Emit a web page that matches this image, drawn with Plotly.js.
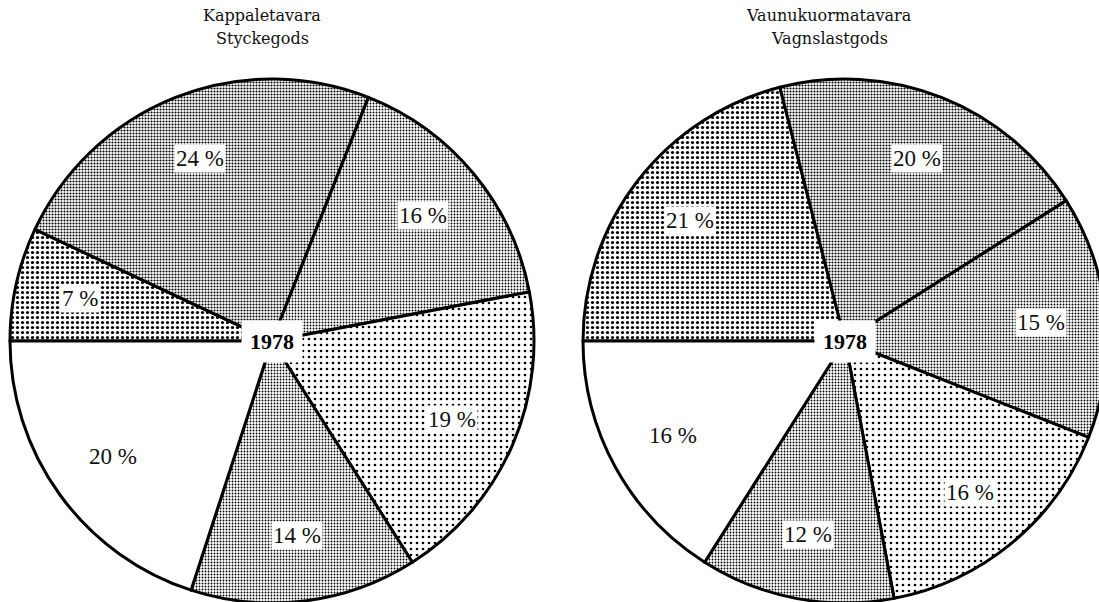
<!DOCTYPE html>
<html><head><meta charset="utf-8">
<script src="https://cdn.plot.ly/plotly-3.0.1.min.js"></script>
<style>html,body{margin:0;padding:0;overflow:hidden;background:#fff}#chart{width:1120px;height:620px}</style>
</head><body><div id="chart"></div>
<script>
// ---- data ----
const year = '1978';
const titleLeft = ['Kappaletavara', 'Styckegods'];
const titleRight = ['Vaunukuormatavara', 'Vagnslastgods'];
const slicesLeft = ['s1', 's2', 's3', 's4', 's5', 's6'];
const valuesLeft = [7, 24, 16, 19, 14, 20];
const slicesRight = ['s1', 's2', 's3', 's4', 's5', 's6'];
const valuesRight = [21, 20, 15, 16, 12, 16];

// ---- styles (kept separate from data) ----
const W = 1120, H = 620;
const geom = [{cx: 272, cy: 341, r: 262, tx: 262}, {cx: 845, cy: 341, r: 262, tx: 829}];
const patLeft = {shape: ['.', '.', '.', '.', '.', ''], size: [5, 3, 3, 6, 3, 4], solidity: [0.33, 0.4, 0.3, 0.16, 0.3, 0.1]};
const patRight = {shape: ['.', '.', '.', '.', '.', ''], size: [5, 3, 3, 6, 3, 4], solidity: [0.33, 0.4, 0.32, 0.16, 0.3, 0.1]};
const labelK = 0.75;

function pieTrace(labels, values, g, pat) {
  return {
    type: 'pie', labels: labels, values: values, sort: false,
    direction: 'clockwise', rotation: 270, textinfo: 'none', hoverinfo: 'skip',
    showlegend: false,
    domain: {x: [(g.cx - g.r) / W, (g.cx + g.r) / W], y: [1 - (g.cy + g.r) / H, 1 - (g.cy - g.r) / H]},
    marker: {
      colors: values.map(() => '#ffffff'),
      line: {color: '#000', width: 3},
      pattern: {shape: pat.shape, size: pat.size, solidity: pat.solidity, fgcolor: '#000', bgcolor: '#fff', fillmode: 'replace'}
    }
  };
}

function labelAnns(values, g) {
  const total = values.reduce((a, b) => a + b, 0);
  let cum = 0;
  const out = [];
  values.forEach(v => {
    const th = (270 + 360 * (cum + v / 2) / total) * Math.PI / 180;
    cum += v;
    const px = g.cx + labelK * g.r * Math.sin(th);
    const py = g.cy - labelK * g.r * Math.cos(th);
    out.push({x: px / W, y: 1 - py / H, xref: 'paper', yref: 'paper', xanchor: 'center', yanchor: 'middle',
      showarrow: false, text: v + ' %', bgcolor: '#fff', borderpad: 1,
      font: {family: 'Liberation Serif, serif', size: 23, color: '#111'}});
  });
  return out;
}

function titleAnns(lines, g) {
  return lines.map((t, i) => ({x: g.tx / W, y: 1 - (16 + i * 23) / H,
    xref: 'paper', yref: 'paper', xanchor: 'center', yanchor: 'middle', showarrow: false, text: t,
    font: {family: 'DejaVu Serif, serif', size: 16, color: '#111'}}));
}

function centerAnn(g) {
  return {x: g.cx / W, y: 1 - g.cy / H, xref: 'paper', yref: 'paper', xanchor: 'center', yanchor: 'middle',
    showarrow: false, text: '<b>' + year + '</b>', bgcolor: '#fff', borderpad: 8,
    font: {family: 'Liberation Serif, serif', size: 22, color: '#000'}};
}

const data = [pieTrace(slicesLeft, valuesLeft, geom[0], patLeft), pieTrace(slicesRight, valuesRight, geom[1], patRight)];
const layout = {
  width: W, height: H, margin: {l: 0, r: 0, t: 0, b: 0},
  paper_bgcolor: '#fff', plot_bgcolor: '#fff',
  annotations: [].concat(
    titleAnns(titleLeft, geom[0]), titleAnns(titleRight, geom[1]),
    labelAnns(valuesLeft, geom[0]), labelAnns(valuesRight, geom[1]),
    [centerAnn(geom[0]), centerAnn(geom[1])])
};
Plotly.newPlot('chart', data, layout, {displayModeBar: false, staticPlot: true});
</script></body></html>
